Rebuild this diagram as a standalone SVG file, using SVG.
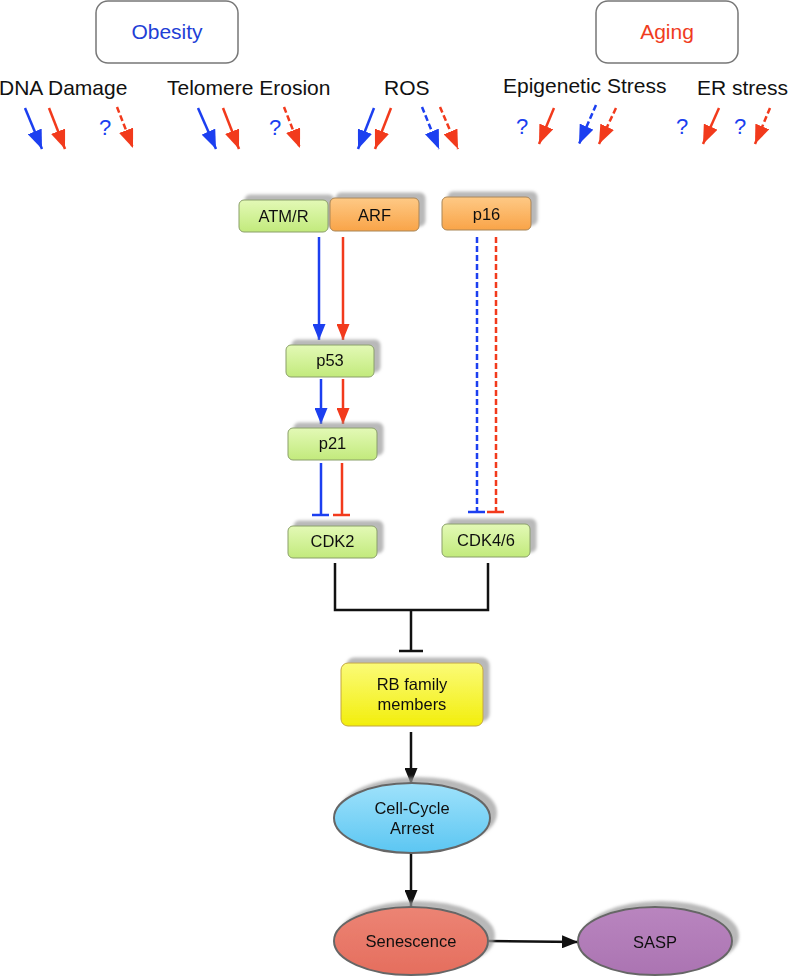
<svg xmlns="http://www.w3.org/2000/svg" width="790" height="977" viewBox="0 0 790 977">
<defs>
<style>
.lbl{font-family:"Liberation Sans",Arial,sans-serif;font-size:21px;fill:#111}
.nt{font-family:"Liberation Sans",Arial,sans-serif;font-size:16.5px;fill:#111;text-anchor:middle}
.q{font-family:"Liberation Sans",Arial,sans-serif;font-size:22px;fill:#1c3ff0;text-anchor:middle}
.b{stroke:#1c3ff0;stroke-width:2.5;fill:none}
.r{stroke:#f23a1c;stroke-width:2.5;fill:none}
.k{stroke:#111;stroke-width:2.5;fill:none}
.d{stroke-dasharray:6 3}
.top{fill:#fff;stroke:#777;stroke-width:1.5}
.green{fill:url(#gGreen);stroke:#8a9f6a;stroke-width:1}
.orange{fill:url(#gOrange);stroke:#a88556;stroke-width:1}
.ell{stroke:#666;stroke-width:2}
</style>
<linearGradient id="gGreen" x1="0" y1="0" x2="0" y2="1"><stop offset="0" stop-color="#e3f9b6"/><stop offset="1" stop-color="#c2ea7c"/></linearGradient>
<linearGradient id="gOrange" x1="0" y1="0" x2="0" y2="1"><stop offset="0" stop-color="#fec985"/><stop offset="1" stop-color="#f9a448"/></linearGradient>
<linearGradient id="gYellow" x1="0" y1="0" x2="0" y2="1"><stop offset="0" stop-color="#fbfb78"/><stop offset="1" stop-color="#f2ee0c"/></linearGradient>
<linearGradient id="gBlue" x1="0" y1="0" x2="0" y2="1"><stop offset="0" stop-color="#9fe2fb"/><stop offset="1" stop-color="#5cc6f2"/></linearGradient>
<linearGradient id="gSalmon" x1="0" y1="0" x2="0" y2="1"><stop offset="0" stop-color="#ec8474"/><stop offset="1" stop-color="#e56e5e"/></linearGradient>
<linearGradient id="gPurple" x1="0" y1="0" x2="0" y2="1"><stop offset="0" stop-color="#b985bf"/><stop offset="1" stop-color="#ab74b2"/></linearGradient>
<filter id="sh" x="-20%" y="-40%" width="140%" height="180%">
<feGaussianBlur in="SourceAlpha" stdDeviation="1.5" result="bl"/>
<feOffset in="bl" dx="6" dy="-5" result="of"/>
<feFlood flood-color="#9a9a9a" flood-opacity="0.7"/>
<feComposite in2="of" operator="in" result="s"/>
<feMerge><feMergeNode in="s"/><feMergeNode in="SourceGraphic"/></feMerge>
</filter>
<marker id="aB" markerUnits="userSpaceOnUse" markerWidth="19" markerHeight="15" refX="19" refY="7.5" orient="auto"><path d="M0,0 L19,7.5 L0,15 z" fill="#1c3ff0"/></marker>
<marker id="aR" markerUnits="userSpaceOnUse" markerWidth="19" markerHeight="15" refX="19" refY="7.5" orient="auto"><path d="M0,0 L19,7.5 L0,15 z" fill="#f23a1c"/></marker>
<marker id="mB" markerUnits="userSpaceOnUse" markerWidth="16" markerHeight="13" refX="16" refY="6.5" orient="auto"><path d="M0,0 L16,6.5 L0,13 z" fill="#1c3ff0"/></marker>
<marker id="mR" markerUnits="userSpaceOnUse" markerWidth="16" markerHeight="13" refX="16" refY="6.5" orient="auto"><path d="M0,0 L16,6.5 L0,13 z" fill="#f23a1c"/></marker>
<marker id="mK" markerUnits="userSpaceOnUse" markerWidth="16" markerHeight="13" refX="16" refY="6.5" orient="auto"><path d="M0,0 L16,6.5 L0,13 z" fill="#111"/></marker>
</defs>
<rect width="790" height="977" fill="#fff"/>

<g id="obesity"><rect class="top" x="96" y="1" width="142" height="62" rx="12"/><text x="167" y="39" class="lbl" style="fill:#1f3fd6;text-anchor:middle">Obesity</text></g>
<g id="aging"><rect class="top" x="596" y="1" width="142" height="62" rx="12"/><text x="667" y="39" class="lbl" style="fill:#f03c1e;text-anchor:middle">Aging</text></g>

<g id="stressors">
<text x="-1" y="95" class="lbl">DNA Damage</text>
<text x="167" y="95" class="lbl">Telomere Erosion</text>
<text x="384" y="95" class="lbl">ROS</text>
<text x="503" y="93" class="lbl">Epigenetic Stress</text>
<text x="697" y="95" class="lbl">ER stress</text>
<text x="105" y="135" class="q">?</text>
<text x="275" y="135" class="q">?</text>
<text x="522" y="134" class="q">?</text>
<text x="682" y="134" class="q">?</text>
<text x="740" y="134" class="q">?</text>
</g>

<g id="top-connectors">
<line class="b" x1="25" y1="108" x2="42" y2="149" marker-end="url(#aB)"/>
<line class="r" x1="49" y1="108" x2="65" y2="149" marker-end="url(#aR)"/>
<line class="r d" x1="117" y1="107" x2="133" y2="148" marker-end="url(#aR)"/>
<line class="b" x1="198" y1="108" x2="216" y2="149" marker-end="url(#aB)"/>
<line class="r" x1="223" y1="108" x2="239" y2="149" marker-end="url(#aR)"/>
<line class="r d" x1="284" y1="107" x2="300" y2="148" marker-end="url(#aR)"/>
<line class="b" x1="374" y1="108" x2="358" y2="149" marker-end="url(#aB)"/>
<line class="r" x1="391" y1="108" x2="375" y2="149" marker-end="url(#aR)"/>
<line class="b d" x1="422" y1="107" x2="439" y2="149" marker-end="url(#aB)"/>
<line class="r d" x1="440" y1="107" x2="458" y2="149" marker-end="url(#aR)"/>
<line class="r" x1="554" y1="108" x2="539" y2="144" marker-end="url(#aR)"/>
<line class="b d" x1="596" y1="105" x2="579" y2="144" marker-end="url(#aB)"/>
<line class="r d" x1="616" y1="108" x2="599" y2="144" marker-end="url(#aR)"/>
<line class="r" x1="719" y1="108" x2="703" y2="144" marker-end="url(#aR)"/>
<line class="r d" x1="770" y1="108" x2="755" y2="144" marker-end="url(#aR)"/>
</g>

<g id="connectors">
<line class="b" x1="319" y1="237" x2="319" y2="340" marker-end="url(#mB)"/>
<line class="r" x1="343" y1="237" x2="343" y2="340" marker-end="url(#mR)"/>
<line class="b" x1="321" y1="379" x2="321" y2="424" marker-end="url(#mB)"/>
<line class="r" x1="343" y1="379" x2="343" y2="424" marker-end="url(#mR)"/>
<line class="b" x1="321" y1="463" x2="321" y2="515"/><line class="b" x1="312" y1="515" x2="329" y2="515"/>
<line class="r" x1="342" y1="463" x2="342" y2="515"/><line class="r" x1="333" y1="515" x2="350" y2="515"/>
<line class="b d" x1="477" y1="237" x2="477" y2="512"/><line class="b" x1="468" y1="512" x2="485" y2="512"/>
<line class="r d" x1="496" y1="237" x2="496" y2="512"/><line class="r" x1="487" y1="512" x2="504" y2="512"/>
<polyline class="k" points="335,563 335,610 488,610 488,563"/>
<line class="k" x1="411" y1="610" x2="411" y2="651"/><line class="k" x1="399" y1="651" x2="423" y2="651"/>
<line class="k" x1="411" y1="732" x2="411" y2="784" marker-end="url(#mK)"/>
<line class="k" x1="411" y1="853" x2="411" y2="906" marker-end="url(#mK)"/>
<line class="k" x1="489" y1="941" x2="578" y2="942" marker-end="url(#mK)"/>
</g>

<g id="atmr" filter="url(#sh)"><rect class="green" x="239" y="200" width="89" height="32" rx="5"/><text x="283.5" y="222" class="nt">ATM/R</text></g>
<g id="arf" filter="url(#sh)"><rect class="orange" x="330" y="198" width="89" height="33" rx="5"/><text x="374.5" y="221" class="nt">ARF</text></g>
<g id="p16" filter="url(#sh)"><rect class="orange" x="442" y="197" width="89" height="33" rx="5"/><text x="486.5" y="220" class="nt">p16</text></g>
<g id="p53" filter="url(#sh)"><rect class="green" x="286" y="345" width="88" height="32" rx="5"/><text x="330" y="366" class="nt">p53</text></g>
<g id="p21" filter="url(#sh)"><rect class="green" x="288" y="428" width="89" height="32" rx="5"/><text x="332.5" y="449" class="nt">p21</text></g>
<g id="cdk2" filter="url(#sh)"><rect class="green" x="288" y="526" width="89" height="32" rx="5"/><text x="332.5" y="547" class="nt">CDK2</text></g>
<g id="cdk46" filter="url(#sh)"><rect class="green" x="442" y="524" width="88" height="33" rx="5"/><text x="486" y="546" class="nt">CDK4/6</text></g>
<g id="rb" filter="url(#sh)"><rect x="341" y="663" width="142" height="63" rx="7" fill="url(#gYellow)" stroke="#c2a640" stroke-width="1"/><text x="412" y="690" class="nt">RB family</text><text x="412" y="710" class="nt">members</text></g>
<g id="arrest" filter="url(#sh)"><ellipse class="ell" cx="412" cy="818" rx="78" ry="35" fill="url(#gBlue)"/><text x="412" y="814" class="nt">Cell-Cycle</text><text x="412" y="834" class="nt">Arrest</text></g>
<g id="senescence" filter="url(#sh)"><ellipse class="ell" cx="411" cy="941" rx="77" ry="34" fill="url(#gSalmon)"/><text x="411" y="947" class="nt">Senescence</text></g>
<g id="sasp" filter="url(#sh)"><ellipse class="ell" cx="655" cy="941" rx="77" ry="34" fill="url(#gPurple)"/><text x="655" y="948" class="nt">SASP</text></g>
</svg>
